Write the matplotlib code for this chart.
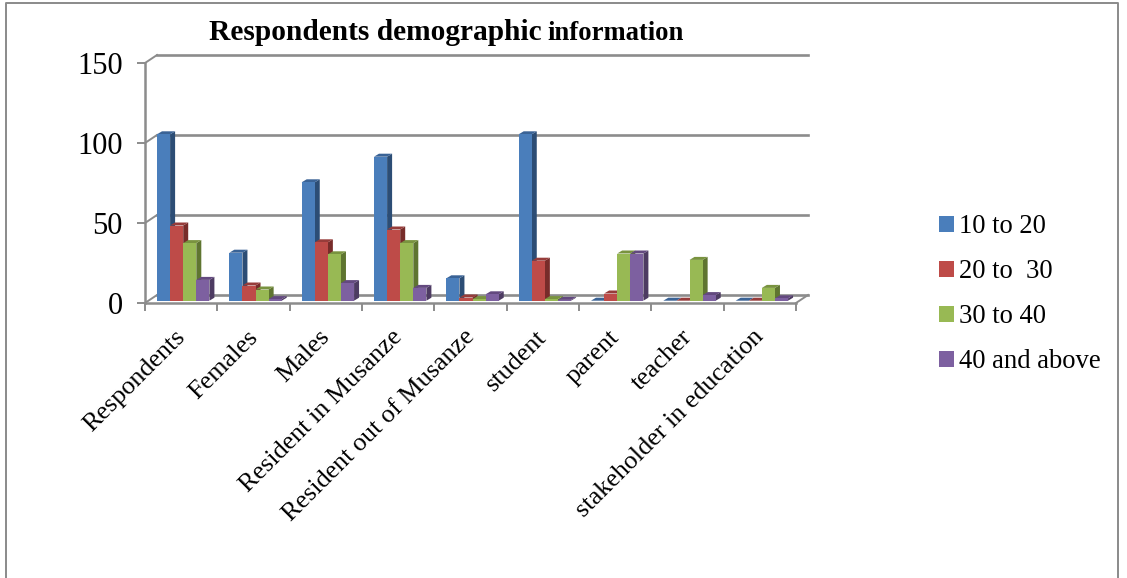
import matplotlib.pyplot as plt
from matplotlib.patches import Polygon

categories = ["Respondents", "Females", "Males", "Resident in Musanze",
              "Resident out of Musanze", "student", "parent", "teacher",
              "stakeholder in education"]
age_10_20 = [104, 30, 74, 90, 14, 104, 0, 0, 0]
age_20_30 = [47, 9.5, 36.5, 44.5, 2, 25, 4.5, 0, 0]
age_30_40 = [36, 7, 29, 36, 1, 1, 29.5, 25.5, 8]
age_40_up = [13, 1, 11, 8, 4, 0.5, 29.5, 3.5, 1.5]
series = [("10 to 20", age_10_20, "#4a7ebb", "#2c4d75", "#3a6396"),
          ("20 to  30", age_20_30, "#be4b48", "#772c2a", "#973c3a"),
          ("30 to 40", age_30_40, "#98b954", "#5f7530", "#79933f"),
          ("40 and above", age_40_up, "#7d60a0", "#4d3b62", "#63497f")]
y_ticks = [0, 50, 100, 150]

W, H = 1127, 578
plt.rcParams["font.family"] = "Liberation Serif"
fig = plt.figure(figsize=(W / 100, H / 100), dpi=100)
ax = fig.add_axes([145 / W, 1 - 303 / H, (796 - 145) / W, 240 / H])
ax.set_xlim(0, 9)
ax.set_ylim(0, 150)
ax.patch.set_alpha(0)
for s in ["top", "right"]:
    ax.spines[s].set_visible(False)
for s in ["left", "bottom"]:
    ax.spines[s].set_color("#8c8c8c")
    ax.spines[s].set_linewidth(1.8)

px_x = 9 / 651
px_y = 150 / 240
wall_dx, wall_dy = 12 * px_x, 8 * px_y
grid = "#8c8c8c"
for t in y_ticks:
    ax.plot([0, wall_dx], [t, t + wall_dy], color=grid, lw=1.4, clip_on=False)
    ax.plot([wall_dx, 9 + wall_dx], [t + wall_dy, t + wall_dy], color=grid, lw=1.9, clip_on=False)
ax.plot([9, 9 + wall_dx], [0, wall_dy], color=grid, lw=1.4, clip_on=False)

bar_w = 13.1 * px_x
first = 12 * px_x
base = 2.3 * px_y
dep_x, dep_y = 5 * px_x, 3 * px_y
for j, (name, vals, front, side, top) in enumerate(series):
    for i, v in enumerate(vals):
        x0 = i + first + j * bar_w
        x1 = x0 + bar_w
        y1 = base + v
        # later series sit in front of the side face of earlier ones
        ax.add_patch(Polygon([(x1, base), (x1 + dep_x, base + dep_y), (x1 + dep_x, y1 + dep_y), (x1, y1)],
                             fc=side, ec="none", zorder=3 + j, clip_on=False))
        ax.add_patch(Polygon([(x0, y1), (x0 + dep_x, y1 + dep_y), (x1 + dep_x, y1 + dep_y), (x1, y1)],
                             fc=top, ec="none", zorder=3 + j, clip_on=False))
    ax.bar([i + first + j * bar_w for i in range(9)], vals, width=bar_w, bottom=base,
           align="edge", color=front, zorder=3 + j, label=name)

ax.set_yticks(y_ticks)
ax.set_xticks(range(10))
ax.set_xticklabels([])
ax.tick_params(axis="y", length=6, width=1.4, color=grid, labelsize=22, pad=10)
ax.tick_params(axis="x", length=6, width=1.4, color=grid)
for i, c in enumerate(categories):
    ax.annotate(c, (i + 0.5, 0), xytext=(-5, -16.5), textcoords="offset points", rotation=45,
                ha="right", va="top", rotation_mode="anchor", fontsize=18.8, clip_on=False)

fig.text(209 / W, 1 - 33 / H, "Respondents demographic", fontsize=21.2, fontweight="bold", va="center", ha="left")
fig.text(684 / W, 1 - 34 / H, "information", fontsize=19.2, fontweight="bold", va="center", ha="right")

handles, labels = ax.get_legend_handles_labels()
fig.legend(handles, labels, loc="center left", bbox_to_anchor=(939 / W, 1 - 294 / H), frameon=False,
           fontsize=19.2, handlelength=0.55, handleheight=0.55, handletextpad=0.2, labelspacing=0.75,
           borderpad=0, borderaxespad=0)

# picture frame
fig.add_artist(plt.Line2D([6 / W, 6 / W, 1118 / W, 1118 / W], [0, 1 - 3 / H, 1 - 3 / H, 0],
                          color="#8a8a8a", lw=1.4))
fig.savefig("out.png", dpi=100)
